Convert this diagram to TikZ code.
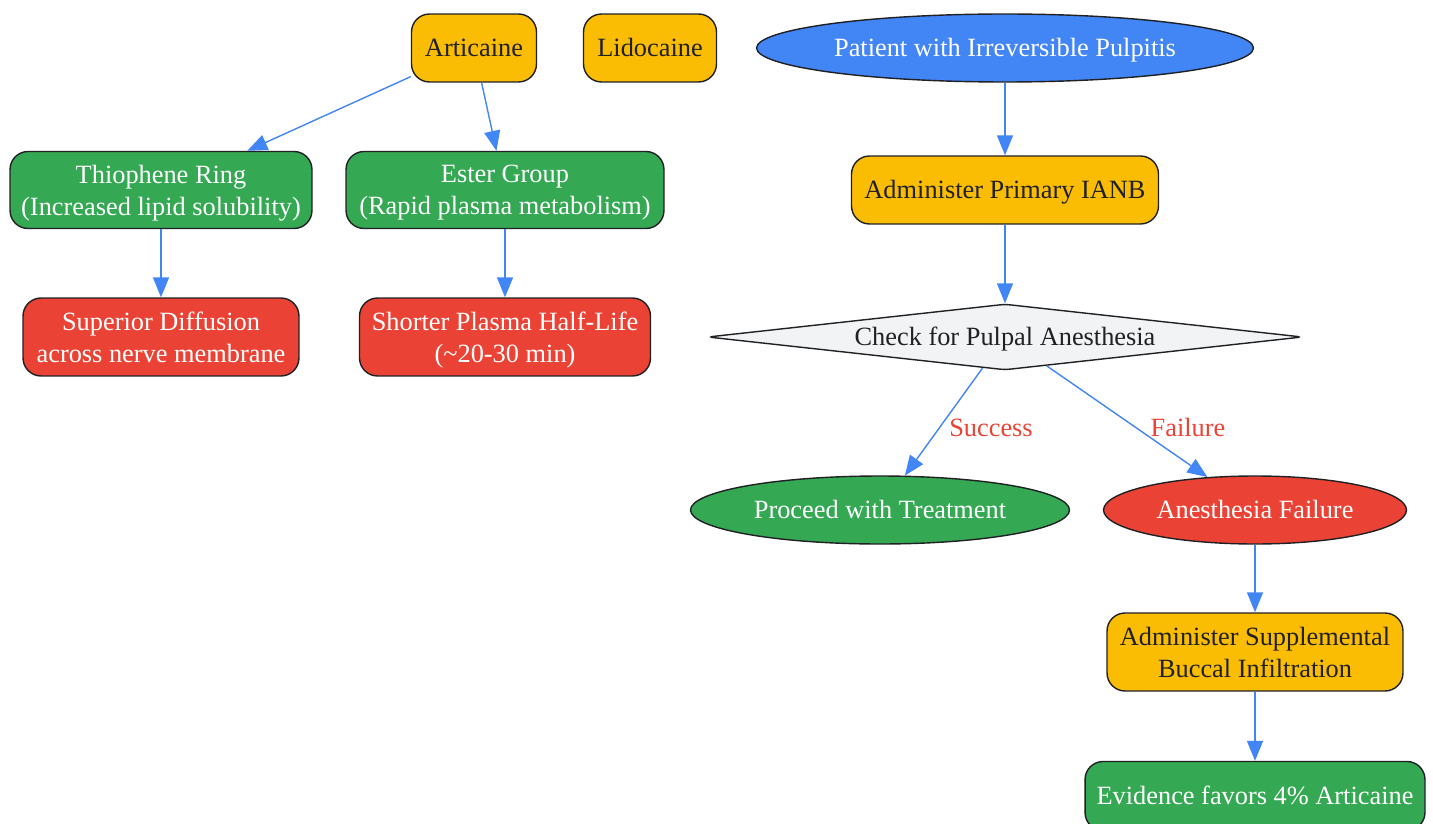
\documentclass[tikz,border=0pt]{standalone}
\usepackage{fontspec}
\setmainfont{Liberation Serif}
\usetikzlibrary{shapes.geometric,arrows.meta}
\definecolor{gold}{HTML}{FBBC04}
\definecolor{leaf}{HTML}{34A853}
\definecolor{alert}{HTML}{EA4335}
\definecolor{flow}{HTML}{4285F4}
\definecolor{ink}{HTML}{202124}
\definecolor{pale}{HTML}{F1F3F4}
\begin{document}
\begin{tikzpicture}[x=0.02cm,y=-0.02cm]
\tikzstyle{every node}=[font=\fontsize{15}{18.2}\selectfont,align=center,draw=ink,line width=0.8pt,inner sep=0pt,text depth=0pt];
\tikzstyle{one}=[text height=10.2pt]
\tikzstyle{box}=[rectangle,rounded corners=0.36cm]
\tikzstyle{warm}=[box,fill=gold,text=ink]
\tikzstyle{good}=[box,fill=leaf,text=white]
\tikzstyle{bad}=[box,fill=alert,text=white]
\tikzstyle{oval}=[ellipse,one,text=white,minimum height=1.36cm]
\tikzstyle{tag}=[draw=none,one,text=alert]
\tikzstyle{link}=[draw=flow,line width=0.8pt,-{Triangle[length=0.4cm,width=0.32cm]}]
\useasboundingbox (0,0) rectangle (1433,824);
% drug properties
\path (474,48) node[warm,one,minimum width=2.5cm,minimum height=1.36cm] (art) {Articaine};
\path (650,48) node[warm,one,minimum width=2.66cm,minimum height=1.36cm] (lido) {Lidocaine};
\path (161,190) node[good,minimum width=6.04cm,minimum height=1.54cm] (thio) {Thiophene Ring\\(Increased lipid solubility)};
\path (505,190) node[good,minimum width=6.36cm,minimum height=1.54cm] (ester) {Ester Group\\(Rapid plasma metabolism)};
\path (161,337) node[bad,minimum width=5.52cm,minimum height=1.56cm] (diff) {Superior Diffusion\\across nerve membrane};
\path (505,337) node[bad,minimum width=5.82cm,minimum height=1.56cm] (half) {Shorter Plasma Half-Life\\(\textasciitilde 20-30 min)};
% clinical flow
\path (1005,48) node[oval,fill=flow,minimum width=9.94cm] (pat) {Patient with Irreversible Pulpitis};
\path (1005,190) node[warm,one,minimum width=6.14cm,minimum height=1.36cm] (ianb) {Administer Primary IANB};
\path (1005,337) node[diamond,one,aspect=9,fill=pale,text=ink,rounded corners=3pt,minimum width=11.9cm,minimum height=1.32cm] (check) {Check for Pulpal Anesthesia};
\path (880,510) node[oval,fill=leaf,minimum width=7.58cm] (proc) {Proceed with Treatment};
\path (1255,510) node[oval,fill=alert,minimum width=6.06cm] (fail) {Anesthesia Failure};
\path (1255,652) node[warm,minimum width=5.92cm,minimum height=1.56cm] (buccal) {Administer Supplemental\\Buccal Infiltration};
\path (1255,796) node[good,one,minimum width=6.8cm,minimum height=1.38cm] (evid) {Evidence favors 4\% Articaine};
\path (991,428) node[tag] (succ) {Success};
\path (1188,428) node[tag] (flab) {Failure};
\draw[link] (art) -- (thio);
\draw[link] (art) -- (ester);
\draw[link] (thio) -- (diff);
\draw[link] (ester) -- (half);
\draw[link] (pat) -- (ianb);
\draw[link] (ianb) -- (check);
\draw[link] (check) -- (proc);
\draw[link] (check) -- (fail);
\draw[link] (fail) -- (buccal);
\draw[link] (buccal) -- (evid);
\end{tikzpicture}
\end{document}
